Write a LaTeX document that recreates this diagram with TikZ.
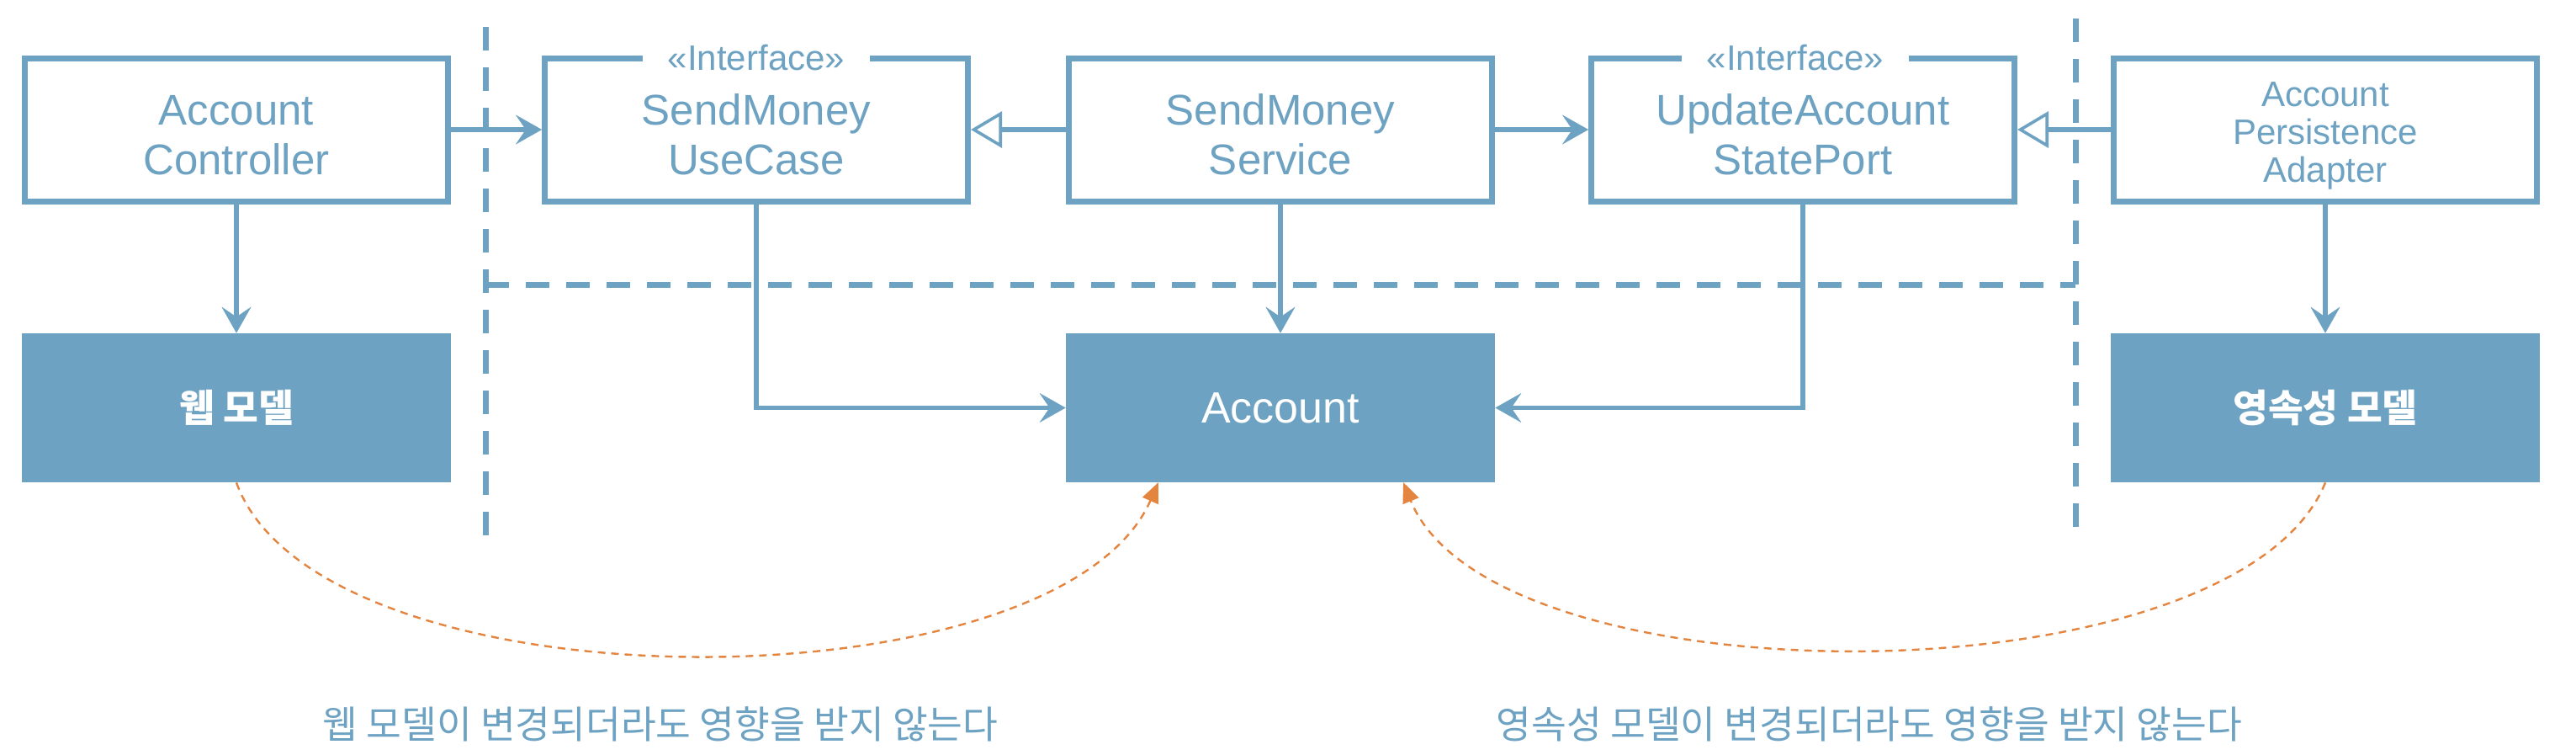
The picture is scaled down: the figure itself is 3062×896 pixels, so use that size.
\documentclass[tikz,border=0pt]{standalone}
\usepackage{fontspec}
\setmainfont{Liberation Sans}
\newfontfamily\kr{Noto Sans CJK KR}
\usetikzlibrary{arrows.meta,calc}
\definecolor{mblue}{HTML}{6DA2C2}
\definecolor{morange}{HTML}{E3843F}
\newcommand\mytopstrut[1]{\rule{0pt}{#1}}
\begin{document}
\begin{tikzpicture}[x=0.5pt,y=-0.5pt,
  box/.style={draw=mblue, line width=3.5pt, fill=white, minimum width=251.5pt, minimum height=85pt,
    inner sep=0pt, text=mblue, align=center, font=\fontsize{25.5}{29.5}\selectfont},
  model/.style={fill=mblue, minimum width=255pt, minimum height=88.5pt, inner sep=0pt,
    text=white, font=\kr\bfseries\fontsize{22.7}{26}\selectfont},
  iface/.style={fill=white, text=mblue, inner xsep=15pt, inner ysep=1pt, font=\fontsize{21}{22}\selectfont},
  conn/.style={draw=mblue, line width=2.8pt, -{Stealth[length=15.5pt,width=17.5pt,inset=6pt,line width=0.1pt]}},
  impl/.style={draw=mblue, line width=2.8pt, -{Triangle[length=18.5pt,width=21.5pt,fill=white,line width=1.8pt]}},
  divider/.style={draw=mblue, line width=3.5pt, dash pattern=on 14pt off 10pt},
  dep/.style={draw=morange, line width=1.2pt, dash pattern=on 4.5pt off 3.5pt, -{Triangle[length=12pt,width=10pt]}},
  note/.style={text=mblue, font=\kr\fontsize{22.7}{26}\selectfont}
]
\useasboundingbox (0,0) rectangle (3062,896);

% dividers
\coordinate (dL1) at (577,32);
\coordinate (dL2) at (577,648);
\coordinate (dR1) at (2467,22);
\coordinate (dR2) at (2467,638);
\coordinate (dH1) at (577,338);
\coordinate (dH2) at (2467,338);
\draw[divider] (dL1) -- (dL2);
\draw[divider] (dR1) -- (dR2);
\draw[divider] (dH1) -- (dH2);

% boxes
\node[box] (ctrl) at (281,154) {\mytopstrut{24.6pt}Account\\Controller};
\node[box] (usecase) at (899,154) {\mytopstrut{24.6pt}SendMoney\\UseCase};
\node[box] (service) at (1522,154) {\mytopstrut{24.6pt}SendMoney\\Service};
\node[box] (port) at (2143,154) {\mytopstrut{24.6pt}UpdateAccount\\StatePort};
\node[box, font=\fontsize{21}{22.5}\selectfont] (adapter) at (2764,154) {\mytopstrut{22pt}Account\\Persistence\\Adapter};
\node[iface] (ucif) at (899,69) {«Interface»};
\node[iface] (portif) at (2134,69) {«Interface»};

\node[model] (web) at (281,484.5) {웹 모델};
\node[model, font=\fontsize{26}{29.5}\selectfont] (account) at (1522,484.5) {Account};
\node[model] (persist) at (2764,484.5) {영속성 모델};

\node[note] (lbl1) at (785,860) {웹 모델이 변경되더라도 영향을 받지 않는다};
\node[note] (lbl2) at (2222,860) {영속성 모델이 변경되더라도 영향을 받지 않는다};

% connectors
\draw[conn] (ctrl.east) -- (usecase.west);
\draw[impl] (service.west) -- (usecase.east);
\draw[conn] (service.east) -- (port.west);
\draw[impl] (adapter.west) -- (port.east);
\draw[conn] (ctrl.south) -- (web.north);
\draw[conn] (adapter.south) -- (persist.north);
\draw[conn] (service.south) -- (account.north);
\draw[conn] (usecase.south) |- (account.west);
\draw[conn] (port.south) |- (account.east);

\coordinate (accL) at (1377,573);
\coordinate (accR) at (1668,573);
\draw[dep] (web.south) .. controls (380,846) and (1257,846) .. (accL);
\draw[dep] (persist.south) .. controls (2657,837) and (1775,837) .. (accR);
\end{tikzpicture}
\end{document}
